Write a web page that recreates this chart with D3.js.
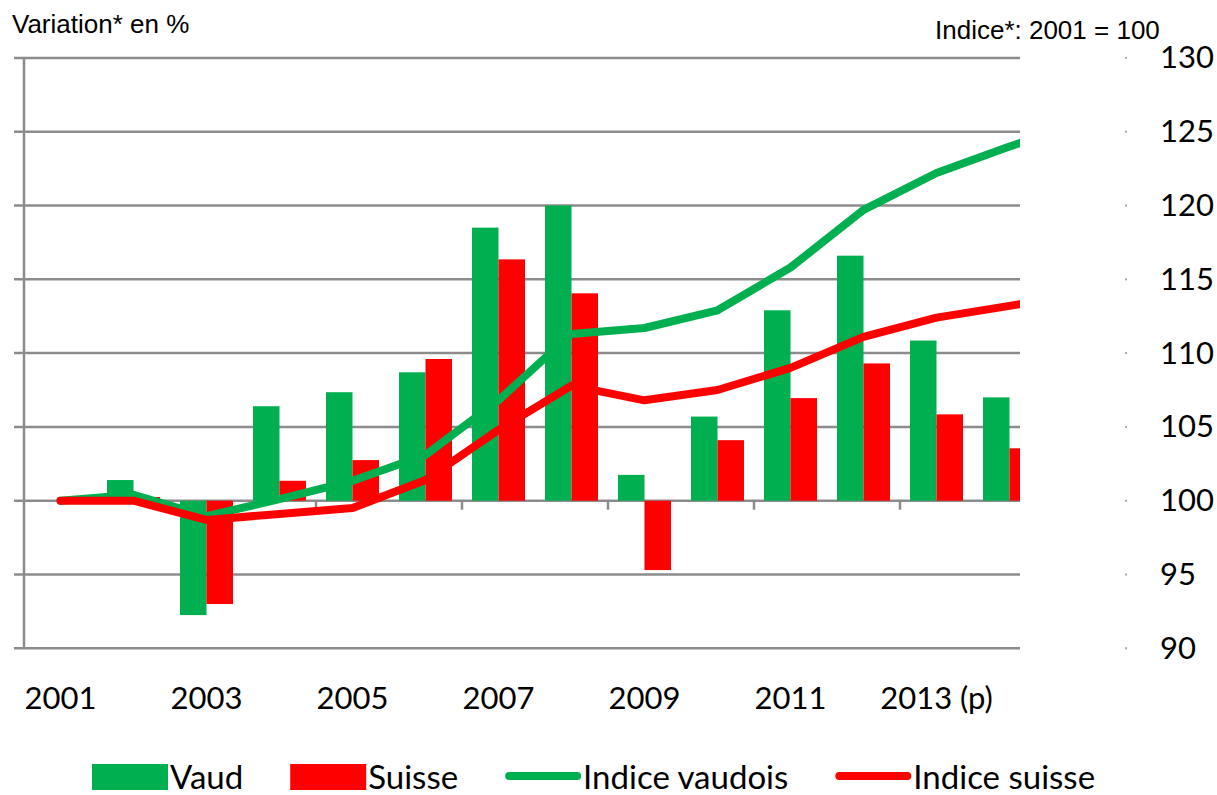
<!DOCTYPE html>
<html lang="fr">
<head>
<meta charset="UTF-8">
<title>Vaud / Suisse</title>
<style>
  body { margin: 0; background: #fff; }
  svg text { fill: #000; }
</style>
</head>
<body>
<script src="https://cdnjs.cloudflare.com/ajax/libs/d3/7.8.5/d3.min.js"></script>
<script>
// categories (2015 only exists for the index lines, cut off at the right edge)
const years = [2001, 2002, 2003, 2004, 2005, 2006, 2007, 2008, 2009, 2010, 2011, 2012, 2013, 2014, 2015];
const labelYears = [2001, 2003, 2005, 2007, 2009, 2011, 2013];
const labelText = ['2001', '2003', '2005', '2007', '2009', '2011', '2013 (p)'];

// annual variation in % (left axis)
const barYears = [2002, 2003, 2004, 2005, 2006, 2007, 2008, 2009, 2010, 2011, 2012, 2013, 2014];
const vaudVar = [0.28, -1.55, 1.28, 1.47, 1.74, 3.70, 4.00, 0.35, 1.14, 2.58, 3.32, 2.17, 1.40];
const suisseVar = [0.05, -1.40, 0.27, 0.55, 1.92, 3.27, 2.81, -0.94, 0.82, 1.39, 1.86, 1.17, 0.71];

// index 2001 = 100 (right axis)
const vaudIdx = [100, 100.4, 98.95, 100.1, 101.35, 103.1, 106.8, 111.3, 111.7, 112.9, 115.8, 119.7, 122.2, 124.0, 125.6];
const suisseIdx = [100, 100, 98.7, 99.1, 99.5, 101.4, 104.8, 107.8, 106.8, 107.5, 109.0, 111.1, 112.4, 113.2, 114.0];

const rightTicks = [90, 95, 100, 105, 110, 115, 120, 125, 130];

const green = '#00b050', red = '#ff0000', grid = '#8c8c8c';
const labelFont = 'Lato, "Open Sans", sans-serif';
const titleFont = '"Liberation Sans", Arial, sans-serif';

const W = 1217, H = 795;
const clipRight = 1020;

const svg = d3.select('body').append('svg')
    .attr('width', W)
    .attr('height', H);

svg.append('defs').append('clipPath').attr('id', 'plotClip')
    .append('rect').attr('x', 0).attr('y', 0).attr('width', clipRight).attr('height', H);

const x = d3.scaleBand().domain(years).range([24, 24 + 73 * years.length]).padding(0);
const yR = d3.scaleLinear().domain([90, 130]).range([648.3, 57.9]);
const yL = d3.scaleLinear().domain([-2, 6]).range([648.3, 57.9]);
const cx = d => x(d) + x.bandwidth() / 2;
const barW = 26.5;

const plot = svg.append('g').attr('clip-path', 'url(#plotClip)');

// gridlines (also the left tick marks)
plot.append('g').selectAll('line').data(rightTicks).enter().append('line')
    .attr('x1', 14).attr('x2', clipRight)
    .attr('y1', d => yR(d)).attr('y2', d => yR(d))
    .attr('stroke', grid).attr('stroke-width', 2.5);

// left axis line
svg.append('line')
    .attr('x1', 24).attr('x2', 24)
    .attr('y1', yR(130)).attr('y2', yR(90))
    .attr('stroke', grid).attr('stroke-width', 2.5);

// category ticks every two years
plot.append('g').selectAll('line').data(labelYears.slice(1)).enter().append('line')
    .attr('x1', d => x(d)).attr('x2', d => x(d))
    .attr('y1', yL(0)).attr('y2', yL(0) + 9)
    .attr('stroke', grid).attr('stroke-width', 2.5);

// bars
const bars = plot.append('g');
bars.selectAll('.vaud').data(barYears).enter().append('rect')
    .attr('class', 'vaud')
    .attr('x', d => cx(d) - barW)
    .attr('width', barW)
    .attr('y', (d, i) => Math.min(yL(vaudVar[i]), yL(0)))
    .attr('height', (d, i) => Math.abs(yL(vaudVar[i]) - yL(0)))
    .attr('fill', green);
bars.selectAll('.suisse').data(barYears).enter().append('rect')
    .attr('class', 'suisse')
    .attr('x', d => cx(d))
    .attr('width', barW)
    .attr('y', (d, i) => Math.min(yL(suisseVar[i]), yL(0)))
    .attr('height', (d, i) => Math.abs(yL(suisseVar[i]) - yL(0)))
    .attr('fill', red);

// index lines
const line = d3.line().x((d, i) => cx(years[i])).y(d => yR(d));
plot.append('path').datum(vaudIdx)
    .attr('d', line).attr('fill', 'none')
    .attr('stroke', green).attr('stroke-width', 8)
    .attr('stroke-linecap', 'round').attr('stroke-linejoin', 'round');
plot.append('path').datum(suisseIdx)
    .attr('d', line).attr('fill', 'none')
    .attr('stroke', red).attr('stroke-width', 8)
    .attr('stroke-linecap', 'round').attr('stroke-linejoin', 'round');

// x labels
const xAxis = d3.axisBottom(x)
    .tickValues(labelYears)
    .tickFormat((d, i) => labelText[i])
    .tickSize(0).tickPadding(0);
const gx = svg.append('g').attr('transform', 'translate(0,687)').call(xAxis);
gx.select('.domain').remove();
gx.selectAll('text').attr('font-family', labelFont).attr('font-size', 31).attr('fill', '#000');

// right axis: tiny tick dots + labels
svg.append('g').selectAll('rect').data(rightTicks).enter().append('rect')
    .attr('x', 1125).attr('y', d => yR(d) - 1)
    .attr('width', 2).attr('height', 2)
    .attr('fill', '#a6a6a6');
const yAxisR = d3.axisRight(yR).tickValues(rightTicks).tickSize(0).tickPadding(0);
const gy = svg.append('g').attr('transform', 'translate(1160,0)').call(yAxisR);
gy.select('.domain').remove();
gy.selectAll('text').attr('font-family', labelFont).attr('font-size', 31).attr('fill', '#000');

// titles
svg.append('text').attr('x', 12).attr('y', 33)
    .attr('font-family', titleFont).attr('font-size', 26)
    .text('Variation* en %');
svg.append('text').attr('x', 935).attr('y', 39)
    .attr('font-family', titleFont).attr('font-size', 26)
    .text('Indice*: 2001 = 100');

// legend
const legendItems = [
    { label: 'Vaud', type: 'rect', color: green },
    { label: 'Suisse', type: 'rect', color: red },
    { label: 'Indice vaudois', type: 'line', color: green },
    { label: 'Indice suisse', type: 'line', color: red }
];
const legend = svg.append('g');
let lx = 92;
legendItems.forEach(item => {
    if (item.type === 'rect') {
        legend.append('rect').attr('x', lx).attr('y', 764)
            .attr('width', 76).attr('height', 26).attr('fill', item.color);
    } else {
        legend.append('line').attr('x1', lx + 4).attr('x2', lx + 72)
            .attr('y1', 776).attr('y2', 776)
            .attr('stroke', item.color).attr('stroke-width', 8)
            .attr('stroke-linecap', 'round');
    }
    const t = legend.append('text').attr('x', lx + 78).attr('y', 789)
        .attr('font-family', labelFont).attr('font-size', 33)
        .text(item.label);
    lx = lx + 78 + t.node().getComputedTextLength() + 47;
});
</script>
</body>
</html>
